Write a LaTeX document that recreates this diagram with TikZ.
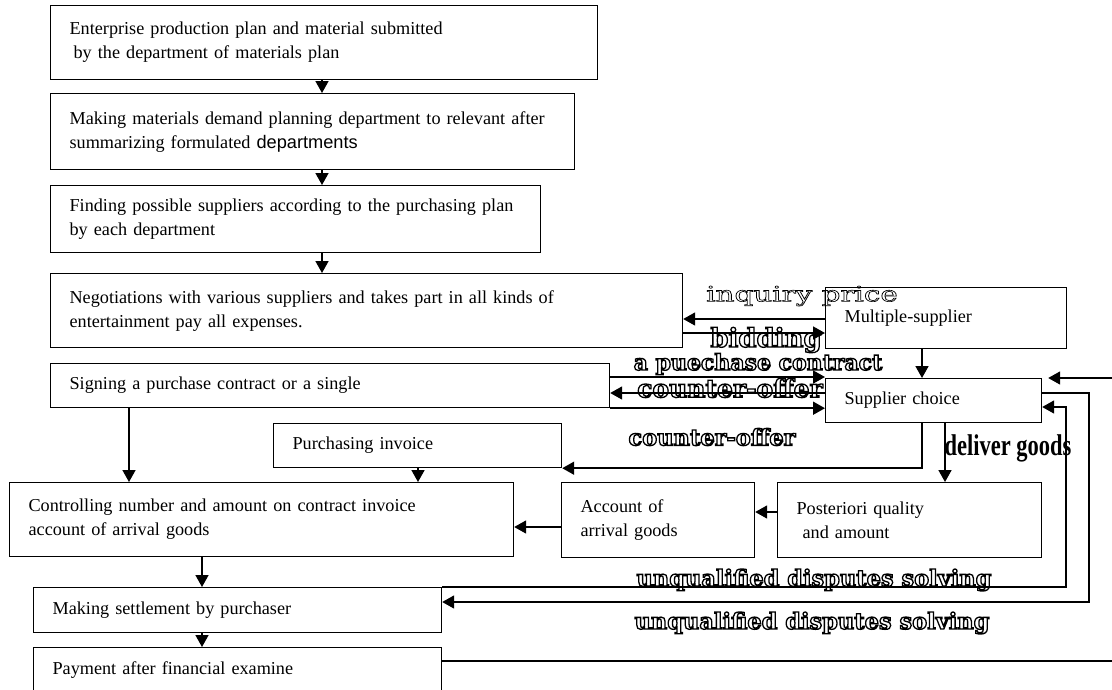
\documentclass[tikz,border=0pt]{standalone}
\usepackage{fontspec}
\usepackage{graphicx}
\setmainfont{Liberation Serif}
\newfontfamily\deptfont{Liberation Sans}
\newfontfamily\tagfont{DejaVu Serif}
\usetikzlibrary{arrows.meta}
\newcommand\hollow[2]{\special{pdf:literal direct 1 Tr #1 w}#2\special{pdf:literal direct 0 Tr}}

\begin{document}
\begin{tikzpicture}[x=1pt, y=-1pt, font=\fontsize{18.2}{24}\selectfont,
stepbox/.style={draw, line width=1.2pt, anchor=north west, align=left, inner xsep=19pt, inner ysep=0pt},
flow/.style={line width=1.7pt, -{Triangle[length=12pt, width=13pt]}},
remark/.style={inner sep=0pt, font=\tagfont\bfseries\fontsize{#1}{#1}\selectfont}
]
\useasboundingbox (0,0) rectangle (1112,689);

\node [stepbox, minimum width=547pt, minimum height=74pt, text width=509pt] (plan) at (50,5) {Enterprise production plan and material submitted\\\hspace*{4pt}by the department of materials plan};
\node [stepbox, minimum width=524pt, minimum height=76pt, text width=486pt] (demand) at (50,93) {Making materials demand planning department to relevant after\\summarizing formulated {\deptfont departments}};
\node [stepbox, minimum width=490pt, minimum height=67pt, text width=452pt] (find) at (50,185) {Finding possible suppliers according to the purchasing plan\\by each department};
\node [stepbox, minimum width=632pt, minimum height=74pt, text width=594pt] (nego) at (50,273) {Negotiations with various suppliers and takes part in all kinds of\\entertainment pay all expenses.};
\node [stepbox, minimum width=559pt, minimum height=44pt, text width=521pt] (sign) at (50,363) {Signing a purchase contract or a single};
\node [stepbox, minimum width=241pt, minimum height=61pt, text width=203pt] (multi) at (825,287) {Multiple-supplier};
\node [stepbox, minimum width=216pt, minimum height=44pt, text width=178pt] (choice) at (825,378) {Supplier choice};
\node [stepbox, minimum width=288pt, minimum height=44pt, text width=250pt] (pinv) at (273,423) {Purchasing invoice};
\node [stepbox, minimum width=504pt, minimum height=74pt, text width=466pt] (ctrl) at (9,482) {Controlling number and amount on contract invoice\\account of arrival goods};
\node [stepbox, minimum width=193pt, minimum height=75pt, text width=155pt] (acct) at (561,482) {Account of\\arrival goods};
\node [stepbox, minimum width=264pt, minimum height=75pt, text width=226pt] (post) at (777,482) {Posteriori quality\\\hspace*{6pt}and amount};
\node [stepbox, minimum width=408pt, minimum height=45pt, text width=370pt] (settle) at (33,587) {Making settlement by purchaser};
\node [stepbox, minimum width=408pt, minimum height=44pt, text width=370pt] (pay) at (33,647) {Payment after financial examine};

\draw [flow] (plan.south -| 322,0) -- (demand.north -| 322,0);
\draw [flow] (demand.south -| 322,0) -- (find.north -| 322,0);
\draw [flow] (find.south -| 322,0) -- (nego.north -| 322,0);
\draw [flow] (multi.west |- 0,319) -- (nego.east |- 0,319);
\draw [flow] (nego.east |- 0,333) -- (multi.west |- 0,333);
\draw [flow] (multi.south -| 922,0) -- (choice.north -| 922,0);
\draw [flow] (sign.east |- 0,377) -- (choice.west |- 0,377);
\draw [flow] (choice.west |- 0,393) -- (sign.east |- 0,393);
\draw [flow] (sign.south east) -- (choice.west |- sign.south east);
\draw [flow] (sign.south -| 129,0) -- (ctrl.north -| 129,0);
\draw [flow] (choice.south -| 922,0) |- (pinv.south east);
\draw [flow] (choice.south -| 945,0) -- (post.north -| 945,0);
\draw [flow] (pinv.south -| 418,0) -- (ctrl.north -| 418,0);
\draw [flow] (post.west |- 0,512) -- (acct.east |- 0,512);
\draw [flow] (acct.west |- 0,527) -- (ctrl.east |- 0,527);
\draw [flow] (ctrl.south -| 202,0) -- (settle.north -| 202,0);
\draw [flow] (settle.south -| 202,0) -- (pay.north -| 202,0);
\draw [flow] (choice.east |- 0,393) -| (1089,602) -- (settle.east |- 0,602);
\draw [flow] (settle.north east) -| (1066,407) -- (choice.east |- 0,407);
\draw [flow] (pay.east |- 0,661) -| (1140,378) -- ([xshift=6pt]choice.north east);

\node [inner sep=0pt, font=\tagfont\fontsize{21}{21}\selectfont] (inquiry) at (802,296) {\scalebox{1.4}[1]{\hollow{0.6}{inquiry price}}};
\node [remark=26] (bidding) at (766,340) {\hollow{1.3}{bidding}};
\node [remark=22] (contract) at (758,364) {\hollow{1.3}{a puechase contract}};
\node [remark=25] (offer) at (730,388) {\hollow{1.3}{counter-offer}};
\node [remark=22.5] (offer-low) at (712,437) {\hollow{1.3}{counter-offer}};
\node [inner sep=0pt, font=\bfseries\fontsize{30}{30}\selectfont] (deliver) at (1008,448) {\scalebox{0.75}[1]{deliver goods}};
\node [remark=22.5] (dispute) at (814,580) {\hollow{1.3}{unqualified disputes solving}};
\node [remark=22.5] (dispute-low) at (812,623) {\hollow{1.3}{unqualified disputes solving}};
\end{tikzpicture}
\end{document}
